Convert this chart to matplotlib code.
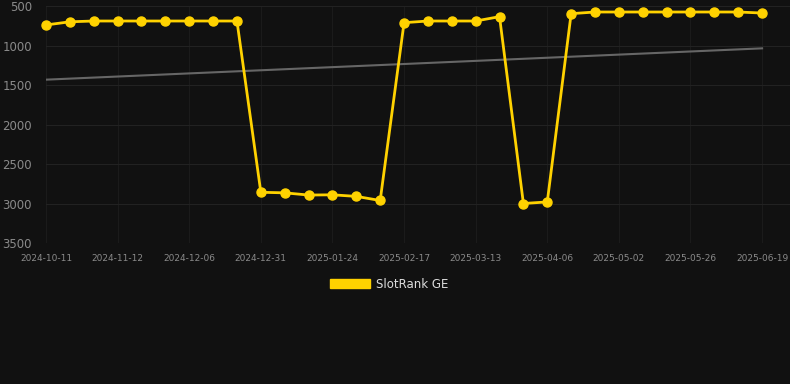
import numpy as np
import matplotlib.pyplot as plt
from matplotlib.patches import Patch

# rank per sample (lower is better)
rank = [740, 700, 690, 690, 690, 690, 690, 690, 690,
        2858, 2865, 2893, 2890, 2910, 2962,
        711, 690, 690, 690, 635,
        3000, 2980,
        597, 576, 576, 576, 576, 576, 576, 576, 589]
tick_labels = ["2024-10-11", "2024-11-12", "2024-12-06", "2024-12-31", "2025-01-24",
               "2025-02-17", "2025-03-13", "2025-04-06", "2025-05-02", "2025-05-26",
               "2025-06-19"]
y_ticks = [500, 1000, 1500, 2000, 2500, 3000, 3500]

bg = "#111111"
gold = "#FFD200"

x = np.arange(len(rank))
k, b = np.polyfit(x, rank, 1)  # trend line

fig = plt.figure(figsize=(7.9, 3.84), dpi=100, facecolor=bg)
ax = fig.add_axes([46/790, 1 - 243/384, 744/790, 237/384])
ax.set_facecolor(bg)

ax.plot(x, k*x + b, color="#666666", lw=1.5, zorder=2)
ax.plot(x, rank, color=gold, lw=2, marker="o", ms=6.5, zorder=3, clip_on=False)

ax.set_ylim(3500, 500)
ax.set_xlim(0, 744/23.87)
ax.set_yticks(y_ticks)
ax.set_yticklabels([str(v) for v in y_ticks])
ax.set_xticks(x[::3])
ax.set_xticklabels(tick_labels)
ax.tick_params(axis="y", length=0, pad=10, labelsize=8.5, labelcolor="#8a8a8a")
ax.tick_params(axis="x", length=0, pad=8, labelsize=6.5, labelcolor="#8a8a8a")
ax.grid(True, axis="y", color="#222222", lw=0.8)
ax.grid(True, axis="x", color="#1b1b1b", lw=0.8)
ax.set_axisbelow(True)
for s in ax.spines.values():
    s.set_visible(False)

fig.legend(handles=[Patch(facecolor=gold, edgecolor=gold)], labels=["SlotRank GE"],
           loc="center", bbox_to_anchor=(389/790, 1 - 284/384), frameon=False,
           handlelength=3.4, handleheight=0.9, fontsize=8.5, labelcolor="#dddddd",
           handletextpad=0.5)

fig.savefig("out.png", dpi=100, facecolor=bg)
